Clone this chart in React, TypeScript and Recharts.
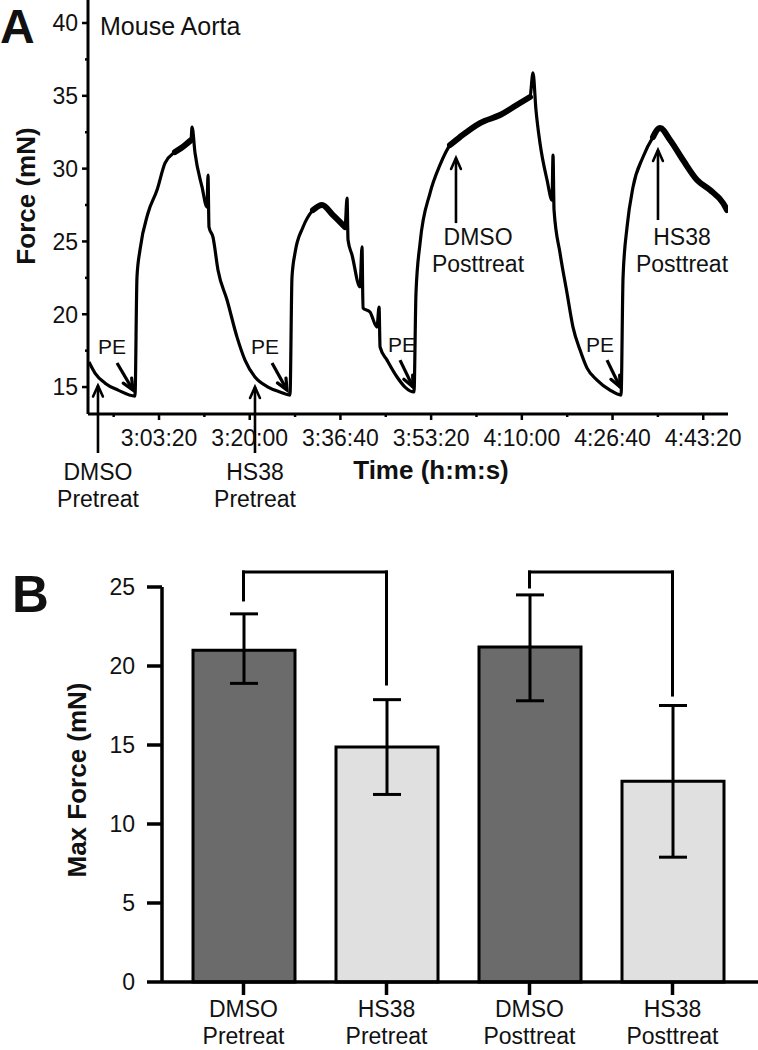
import React from 'react';
import {
  LineChart, Line, XAxis, YAxis, ReferenceLine, ReferenceDot,
  BarChart, Bar, Cell, ErrorBar,
} from 'recharts';

const FONT = '"Liberation Sans", Arial, Helvetica, sans-serif';
const INK = '#111';

// ---------- Panel A: force trace (time in s of day, force in mN) ----------
const traceTime = [
  10228, 10294, 10405, 10548, 10735, 10757, 10790, 10879, 10978, 11066,
  11176, 11287, 11353, 11364, 11397, 11474, 11529, 11540, 11551, 11595,
  11650, 11750, 11860, 11948, 12058, 12202, 12334, 12444, 12466, 12499,
  12588, 12698, 12797, 12918, 13051, 13073, 13084, 13128, 13216, 13238,
  13249, 13326, 13403, 13426, 13437, 13514, 13624, 13712, 13811, 13833,
  13878, 13988, 14098, 14208, 14318, 14539, 14760, 14980, 15090, 15123,
  15156, 15200, 15278, 15333, 15344, 15355, 15421, 15498, 15564, 15642,
  15719, 15829, 15972, 16094, 16116, 16160, 16226, 16336, 16446, 16524,
  16634, 16777, 16932, 17075, 17218, 17262,
];
const traceForce = [
  16.72, 15.96, 15.27, 14.79, 14.38, 22.55, 24.41, 26.95, 28.53, 30.38,
  31.14, 31.62, 31.96, 32.86, 31.07, 28.74, 27.36, 29.56, 25.99, 25.30,
  23.04, 20.98, 18.43, 16.85, 15.69, 15.00, 14.66, 14.45, 22.55, 24.20,
  25.99, 27.16, 27.50, 26.81, 25.99, 27.98, 25.10, 24.07, 21.87, 24.62,
  20.43, 20.15, 19.12, 20.49, 17.75, 16.85, 15.69, 15.00, 14.66, 21.46,
  24.89, 28.32, 30.25, 31.62, 32.17, 33.13, 33.68, 34.51, 34.92, 36.57,
  34.02, 31.76, 29.22, 27.84, 30.93, 27.16, 24.20, 21.46, 19.12, 17.54,
  16.30, 15.48, 14.79, 14.45, 22.55, 25.99, 28.74, 30.80, 32.17, 32.79,
  31.96, 30.59, 29.22, 28.53, 27.64, 27.16,
];
// noisy plateau stretches (drawn as a thicker band)
const plateauStart = [11150, 12600, 14150, 16400];
const plateauEnd = [11355, 13060, 15095, 17262];

const timeDomain = [10217, 17273];
const forceDomain = [13.15, 41.58];
const timeMajorTicks = [11000, 12000, 13000, 14000, 15000, 16000, 17000];
const timeMinorTicks = [10500, 11500, 12500, 13500, 14500, 15500, 16500];
const forceMajorTicks = [15, 20, 25, 30, 35, 40];
const forceMinorTicks = [17.5, 22.5, 27.5, 32.5, 37.5];

// PE annotations
const peLabelTime = [10482, 12169, 13679, 15862];
const peLabelForce = [17.82, 17.82, 17.9, 17.9];
const peArrowFromTime = [10537, 12246, 13657, 15939];
const peArrowFromForce = [16.65, 16.65, 16.85, 16.85];
const peArrowToTime = [10713, 12411, 13800, 16083];
const peArrowToForce = [14.79, 14.79, 15.0, 15.0];

// treatment annotations
const treatmentNames = [['DMSO', 'Pretreat'], ['HS38', 'Pretreat'], ['DMSO', 'Posttreat'], ['HS38', 'Posttreat']];
const treatmentArrowTime = [10327, 12058, 14274, 16501];
const treatmentArrowTail = [10.47, 10.47, 26.26, 26.47];
const treatmentArrowTip = [15.1, 15.0, 30.73, 31.28];
const treatmentLabelTime = [10327, 12058, 14517, 16766];
const treatmentLabelForce = [9.16, 9.16, 25.3, 25.3];

// ---------- Panel B: max force ----------
const barCategories = ['DMSO Pretreat', 'HS38 Pretreat', 'DMSO Posttreat', 'HS38 Posttreat'];
const barMean = [21.0, 14.87, 21.2, 12.7];
const barErrLow = [2.1, 3.0, 3.4, 4.8];
const barErrHigh = [2.3, 3.0, 3.3, 4.8];
const barColors = ['#6b6b6b', '#e0e0e0', '#6b6b6b', '#e0e0e0'];
const barTicks = [0, 5, 10, 15, 20, 25];

const bracketLeft = ['DMSO Pretreat', 'DMSO Posttreat'];
const bracketRight = ['HS38 Pretreat', 'HS38 Posttreat'];
const bracketTop = [25.95, 25.95];
const bracketLeftEnd = [24.18, 25.0];
const bracketRightEnd = [18.86, 18.16];

// ---------- derived tables ----------
const traceData = traceTime.map((t, i) => {
  const inPlateau = plateauStart.some((s, k) => t >= s && t <= plateauEnd[k]);
  return { t, f: traceForce[i], band: inPlateau ? traceForce[i] : null };
});

const barData = barCategories.map((c, i) => ({
  cat: c,
  force: barMean[i],
  err: [barErrLow[i], barErrHigh[i]],
}));

const pad2 = (n: number) => (n < 10 ? '0' + n : '' + n);
const fmtTime = (t: number) => {
  const h = Math.floor(t / 3600);
  const m = Math.floor((t % 3600) / 60);
  const s = Math.round(t % 60);
  return `${h}:${pad2(m)}:${pad2(s)}`;
};

// ---------- custom ticks ----------
const A_X_TICK = 6, A_X_MARGIN = 10;
const A_Y_TICK = 6, A_Y_MARGIN = 4;

const TimeTick = (props: any) => {
  const { x, y, payload } = props;
  const axisY = y - A_X_TICK - A_X_MARGIN;
  const major = timeMajorTicks.includes(payload.value);
  return (
    <g>
      <line x1={x} x2={x} y1={axisY} y2={axisY + (major ? 6 : 3)} stroke="#000" strokeWidth={2.5} />
      {major && (
        <text x={x} y={y} dy="0.71em" textAnchor="middle" fontFamily={FONT} fontSize={23} fill={INK}>
          {fmtTime(payload.value)}
        </text>
      )}
    </g>
  );
};

const ForceTick = (props: any) => {
  const { x, y, payload } = props;
  const axisX = x + A_Y_TICK + A_Y_MARGIN;
  const major = forceMajorTicks.includes(payload.value);
  return (
    <g>
      <line x1={axisX} x2={axisX - (major ? 6 : 3)} y1={y} y2={y} stroke="#000" strokeWidth={2.5} />
      {major && (
        <text x={x} y={y} dy="0.36em" textAnchor="end" fontFamily={FONT} fontSize={23} fill={INK}>
          {payload.value}
        </text>
      )}
    </g>
  );
};

const CatTick = (props: any) => {
  const { x, y, payload } = props;
  const parts = String(payload.value).split(' ');
  return (
    <text x={x} y={y} textAnchor="middle" fontFamily={FONT} fontSize={23} fill={INK}>
      {parts.map((p, i) => (
        <tspan key={i} x={x} dy={i === 0 ? '0.71em' : 27}>{p}</tspan>
      ))}
    </text>
  );
};

// ---------- annotation shapes ----------
const arrowShape = (w: number, head: number) => (p: any) => {
  const { x1, y1, x2, y2 } = p;
  const ang = Math.atan2(y2 - y1, x2 - x1);
  const a1 = ang + Math.PI - 0.42;
  const a2 = ang + Math.PI + 0.42;
  const pts = `${x2 + head * Math.cos(a1)},${y2 + head * Math.sin(a1)} ${x2},${y2} ${x2 + head * Math.cos(a2)},${y2 + head * Math.sin(a2)}`;
  return (
    <g>
      <line x1={x1} y1={y1} x2={x2} y2={y2} stroke="#000" strokeWidth={w} />
      <polyline points={pts} fill="none" stroke="#000" strokeWidth={w} strokeLinecap="round" />
    </g>
  );
};

const textShape = (lines: string[], size: number, gap: number) => (p: any) => (
  <text x={p.cx} y={p.cy} textAnchor="middle" fontFamily={FONT} fontSize={size} fill={INK}>
    {lines.map((l, i) => (
      <tspan key={i} x={p.cx} dy={i === 0 ? '0.36em' : gap}>{l}</tspan>
    ))}
  </text>
);

const bracketShape = (p: any) => (
  <line x1={p.x1} y1={p.y1} x2={p.x2} y2={p.y2} stroke="#000" strokeWidth={3} strokeLinecap="square" />
);

export default function App() {
  return (
    <div style={{ position: 'absolute', left: 0, top: 0, width: 758, height: 1050, background: '#fff', fontFamily: FONT }}>
      <div style={{ position: 'absolute', left: 0, top: 0 }}>
        <LineChart width={758} height={530} data={traceData} margin={{ top: 0, right: 30, bottom: 76, left: 28 }}>
          <XAxis
            type="number"
            dataKey="t"
            domain={timeDomain}
            allowDataOverflow
            ticks={[...timeMinorTicks, ...timeMajorTicks].sort((a, b) => a - b)}
            interval={0}
            height={40}
            tickSize={A_X_TICK}
            tickMargin={A_X_MARGIN}
            tickLine={false}
            axisLine={{ stroke: '#000', strokeWidth: 3 }}
            tick={<TimeTick />}
          />
          <YAxis
            type="number"
            domain={forceDomain}
            allowDataOverflow
            ticks={[...forceMinorTicks, ...forceMajorTicks].sort((a, b) => a - b)}
            interval={0}
            width={60}
            tickSize={A_Y_TICK}
            tickMargin={A_Y_MARGIN}
            tickLine={false}
            axisLine={{ stroke: '#000', strokeWidth: 3 }}
            tick={<ForceTick />}
          />
          <Line dataKey="f" stroke="#000" strokeWidth={3.2} dot={false} type="monotoneX"
            strokeLinejoin="round" isAnimationActive={false} />
          <Line dataKey="band" stroke="#000" strokeWidth={6} dot={false} type="monotoneX"
            connectNulls={false} strokeLinejoin="round" strokeLinecap="round" isAnimationActive={false} />

          {peArrowFromTime.map((t, i) => (
            <ReferenceLine key={'pa' + i} ifOverflow="visible"
              segment={[{ x: t, y: peArrowFromForce[i] }, { x: peArrowToTime[i], y: peArrowToForce[i] }]}
              shape={arrowShape(3.2, 12)} />
          ))}
          {peLabelTime.map((t, i) => (
            <ReferenceDot key={'pl' + i} x={t} y={peLabelForce[i]} r={1} ifOverflow="visible"
              shape={textShape(['PE'], 21, 0)} />
          ))}
          {treatmentArrowTime.map((t, i) => (
            <ReferenceLine key={'ta' + i} ifOverflow="visible"
              segment={[{ x: t, y: treatmentArrowTail[i] }, { x: t, y: treatmentArrowTip[i] }]}
              shape={arrowShape(2.6, 12)} />
          ))}
          {treatmentLabelTime.map((t, i) => (
            <ReferenceDot key={'tl' + i} x={t} y={treatmentLabelForce[i]} r={1} ifOverflow="visible"
              shape={textShape(treatmentNames[i], 23, 27)} />
          ))}
        </LineChart>
      </div>

      <div style={{ position: 'absolute', left: 0, top: 530 }}>
        <BarChart width={758} height={520} data={barData} margin={{ top: 57, right: 0, bottom: 8, left: 82 }}>
          <XAxis
            dataKey="cat"
            padding={{ left: 10, right: 14 }}
            interval={0}
            height={60}
            tickSize={13}
            tickMargin={6}
            axisLine={{ stroke: '#000', strokeWidth: 3.5 }}
            tickLine={{ stroke: '#000', strokeWidth: 3.5 }}
            tick={<CatTick />}
          />
          <YAxis
            type="number"
            domain={[0, 25]}
            ticks={barTicks}
            interval={0}
            width={80}
            tickSize={15}
            tickMargin={12}
            axisLine={{ stroke: '#000', strokeWidth: 3.5 }}
            tickLine={{ stroke: '#000', strokeWidth: 3.5 }}
            tick={{ fontFamily: FONT, fontSize: 23, fill: INK }}
          />
          <Bar dataKey="force" barSize={102} stroke="#000" strokeWidth={3} isAnimationActive={false}>
            {barData.map((d, i) => (
              <Cell key={d.cat} fill={barColors[i]} />
            ))}
            <ErrorBar dataKey="err" width={14} stroke="#000" strokeWidth={3} />
          </Bar>
          {bracketLeft.map((c, i) => (
            <ReferenceLine key={'bl' + i} ifOverflow="visible" shape={bracketShape}
              segment={[{ x: c, y: bracketLeftEnd[i] }, { x: c, y: bracketTop[i] }]} />
          ))}
          {bracketLeft.map((c, i) => (
            <ReferenceLine key={'bt' + i} ifOverflow="visible" shape={bracketShape}
              segment={[{ x: c, y: bracketTop[i] }, { x: bracketRight[i], y: bracketTop[i] }]} />
          ))}
          {bracketRight.map((c, i) => (
            <ReferenceLine key={'br' + i} ifOverflow="visible" shape={bracketShape}
              segment={[{ x: c, y: bracketTop[i] }, { x: c, y: bracketRightEnd[i] }]} />
          ))}
        </BarChart>
      </div>

      <svg width={758} height={1050} style={{ position: 'absolute', left: 0, top: 0, pointerEvents: 'none' }}>
        <text x={0} y={43} fontFamily={FONT} fontWeight="bold" fontSize={48} fill={INK}>A</text>
        <text x={100} y={35} fontFamily={FONT} fontSize={25} fill={INK}>Mouse Aorta</text>
        <text x={35} y={196} transform="rotate(-90 35 196)" textAnchor="middle" fontFamily={FONT}
          fontWeight="bold" fontSize={26} fill={INK}>Force (mN)</text>
        <text x={431} y={479} textAnchor="middle" fontFamily={FONT} fontWeight="bold" fontSize={26} fill={INK}>
          Time (h:m:s)
        </text>
        <text x={12} y={612} fontFamily={FONT} fontWeight="bold" fontSize={51} fill={INK}>B</text>
        <text x={86} y={780} transform="rotate(-90 86 780)" textAnchor="middle" fontFamily={FONT}
          fontWeight="bold" fontSize={26} fill={INK}>Max Force (mN)</text>
      </svg>
    </div>
  );
}
